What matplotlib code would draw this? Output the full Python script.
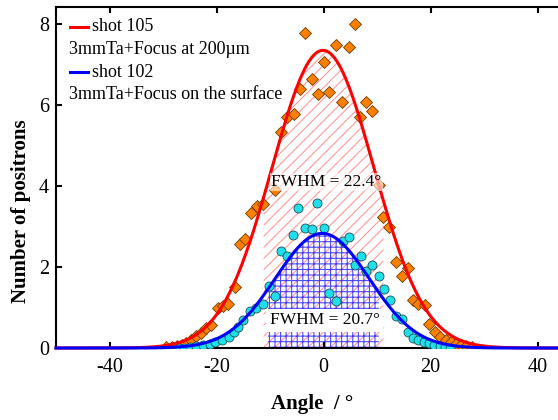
import numpy as np
import matplotlib.pyplot as plt

plt.rcParams['font.family'] = ['Liberation Serif', 'DejaVu Serif']
plt.rcParams['hatch.linewidth'] = 0.8
plt.rcParams['axes.unicode_minus'] = False

# shot 105 (orange diamonds)
ang_105 = [-29.5, -28.4, -27.4, -26.5, -25.7, -24.7, -23.8, -22.9, -21.9, -21.0,
           -19.8, -18.8, -17.8, -16.6, -15.6, -14.7, -13.5, -12.4, -11.3, -9.1,
           -7.9, -6.9, -5.6, -4.4, -3.4, -2.2, -1.0, 0.0, 1.1, 2.4,
           3.5, 4.7, 5.8, 6.9, 8.0, 9.1, 10.3, 11.2, 12.3, 13.6,
           14.6, 15.8, 16.7, 17.7, 18.9, 19.8, 20.8, 21.8, 22.8, 23.9,
           24.8, 25.7, 26.7, 27.7]
n_105 = [0.02, 0.03, 0.05, 0.08, 0.12, 0.20, 0.30, 0.38, 0.50, 0.57,
         0.99, 1.04, 1.09, 1.51, 2.56, 2.68, 3.33, 3.50, 3.56, 3.90,
         5.33, 5.70, 5.77, 6.40, 7.79, 6.64, 6.26, 7.07, 6.33, 7.48,
         6.07, 7.44, 7.99, 5.70, 6.07, 5.86, 4.02, 3.24, 2.98, 2.13,
         1.78, 1.98, 1.19, 1.09, 1.07, 0.60, 0.39, 0.26, 0.20, 0.15,
         0.11, 0.07, 0.04, 0.02]

# shot 102 (cyan circles)
ang_102 = [-27.0, -26.0, -25.0, -23.8, -22.6, -21.2, -20.2, -19.0, -17.7, -16.8,
           -16.0, -15.1, -13.8, -12.6, -11.3, -10.2, -9.0, -7.9, -6.9, -5.7,
           -4.8, -3.5, -2.2, -1.2, 0.0, 1.1, 2.3, 3.6, 4.7, 5.8,
           7.0, 8.0, 9.1, 10.3, 11.3, 12.4, 13.6, 14.6, 15.7, 16.7,
           17.7, 18.8, 19.8, 20.7, 21.7, 22.7, 23.7]
n_102 = [0.00, 0.01, 0.03, 0.05, 0.07, 0.10, 0.14, 0.20, 0.28, 0.40,
         0.53, 0.69, 0.91, 0.98, 1.09, 1.52, 1.29, 2.40, 2.27, 2.78,
         3.45, 2.96, 2.93, 3.58, 2.97, 1.37, 1.16, 2.64, 2.73, 2.04,
         2.28, 1.91, 2.06, 1.77, 1.46, 1.18, 0.80, 0.72, 0.40, 0.24,
         0.19, 0.16, 0.12, 0.08, 0.05, 0.03, 0.01]

# gaussian fit parameters
amp_105, cen_105, fwhm_105 = 7.35, -0.1, 22.4
amp_102, cen_102, fwhm_102 = 2.83, -0.25, 20.7


def gauss(x, a, c, fwhm):
    s = fwhm / 2.3548
    return a * np.exp(-(x - c) ** 2 / (2 * s ** 2))


fig = plt.figure(figsize=(5.58, 4.2), dpi=100)
ax = fig.add_axes([0.1004, 0.1714, 0.9588, 0.8119])

xs = np.linspace(-50, 50, 801)

# hatched FWHM areas
x_r = np.linspace(-fwhm_105 / 2, fwhm_105 / 2, 300)
ax.fill_between(x_r, 0, gauss(x_r, amp_105, cen_105, fwhm_105), facecolor='none',
                edgecolor=(1, 0, 0, 0.4), hatch='///', linewidth=0, zorder=1)
x_b = np.linspace(-fwhm_102 / 2, fwhm_102 / 2, 300)
ax.fill_between(x_b, 0, gauss(x_b, amp_102, cen_102, fwhm_102), facecolor='none',
                edgecolor=(0, 0, 1, 0.7), hatch='+++', linewidth=0, zorder=1.5)

# points
ax.plot(ang_105, n_105, 'D', ms=6.3, mfc='#ff8000', mec='#6b3a00', mew=0.6, zorder=3)
ax.plot(ang_102, n_102, 'o', ms=6.5, mfc='#1fe0ea', mec='#1f4f55', mew=0.6, zorder=3)

# fits
ax.plot(xs, gauss(xs, amp_105, cen_105, fwhm_105), color='red', lw=2.2, zorder=4, clip_on=False)
ax.plot(xs, gauss(xs, amp_102, cen_102, fwhm_102), color='blue', lw=2.2, zorder=4, clip_on=False)

ax.text(0.5, 4.1, f'FWHM = {fwhm_105}°', ha='center', va='center', fontsize=12.5,
        bbox=dict(facecolor='white', edgecolor='none', alpha=0.6, pad=1), zorder=5)
ax.text(0.25, 0.69, f'FWHM = {fwhm_102}°', ha='center', va='center', fontsize=12.5,
        bbox=dict(facecolor='white', edgecolor='none', pad=2.5), zorder=5)

# legend drawn by hand
rows = [('shot 105', 'red', 0.942), ('3mmTa+Focus at 200µm', None, 0.874),
        ('shot 102', 'blue', 0.809), ('3mmTa+Focus on the surface', None, 0.742)]
for txt, c, y in rows:
    if c:
        ax.plot([0.026, 0.060], [y, y], transform=ax.transAxes, color=c, lw=2.2)
        ax.text(0.067, y, txt, transform=ax.transAxes, va='center', fontsize=13)
    else:
        ax.text(0.024, y, txt, transform=ax.transAxes, va='center', fontsize=13)

ax.set_xlim(-50, 50)
ax.set_ylim(0, 8.42)
ax.set_xticks([-40, -20, 0, 20, 40])
ax.set_yticks([0, 2, 4, 6, 8])
ax.tick_params(direction='in', length=4, width=1.5, top=True, right=True, labelsize=14.5)
ax.tick_params(axis='x', pad=7)
ax.tick_params(axis='y', pad=5)
for s in ax.spines.values():
    s.set_linewidth(1.5)

ax.set_xlabel('Angle  / °', fontsize=15, fontweight='bold', va='top')
ax.set_ylabel('Number of positrons', fontsize=15, fontweight='bold')
ax.xaxis.set_label_coords(0.478, -0.135)
ax.yaxis.set_label_coords(-0.047, 0.40)

fig.savefig('out.png', dpi=100)
